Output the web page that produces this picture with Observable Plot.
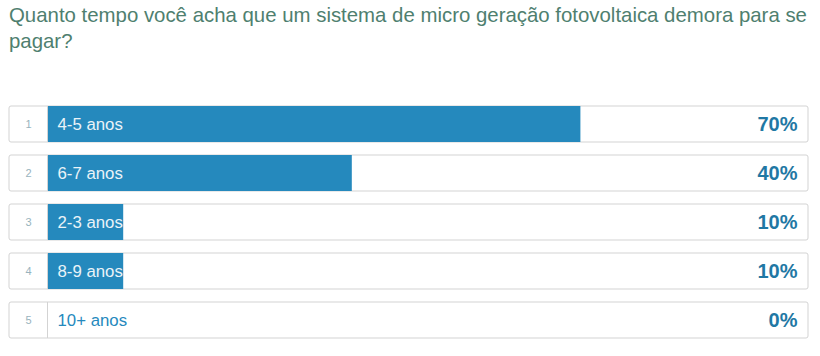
<!DOCTYPE html>
<html>
<head>
<meta charset="utf-8">
<script src="https://cdn.jsdelivr.net/npm/d3@7"></script>
<script src="https://cdn.jsdelivr.net/npm/@observablehq/plot@0.6"></script>
<style>
  html, body { margin: 0; padding: 0; background: #fff; }
  #title { font-family: "Liberation Sans", Arial, sans-serif; font-size: 20.4px; line-height: 26px;
           color: #4f7f6f; padding: 2px 0 0 9px; height: 56px; box-sizing: border-box; white-space: nowrap; }
  svg { display: block; }
</style>
</head>
<body>
<div id="title">Quanto tempo você acha que um sistema de micro geração fotovoltaica demora para se<br>pagar?</div>
<div id="chart"></div>
<script>
const titleText = "Quanto tempo você acha que um sistema de micro geração fotovoltaica demora para se pagar?";
const ranks = [1, 2, 3, 4, 5];
const categories = ["4-5 anos", "6-7 anos", "2-3 anos", "8-9 anos", "10+ anos"];
const percents = [70, 40, 10, 10, 0];

const data = categories.map((c, i) => ({ rank: ranks[i], cat: c, pct: percents[i] }));
const blue = "#2589bd";

const chart = Plot.plot({
  width: 820,
  height: 300,
  marginLeft: 47,
  marginRight: 11,
  marginTop: 43.5,
  marginBottom: 11.5,
  x: { domain: [0, 100], axis: null },
  y: { domain: categories, axis: null, paddingInner: 0.265, paddingOuter: 0.1325 },
  style: { fontFamily: "'Liberation Sans', Arial, sans-serif", background: "#fff" },
  marks: [
    Plot.barX(data, { y: "cat", x1: 0, x2: 100, insetLeft: -38, insetRight: 1, fill: "#fff", stroke: "#d3d3d3", strokeWidth: 1, rx: 2 }),
    Plot.barX(data, { y: "cat", x1: 0, x2: "pct", fill: blue }),
    Plot.tickX(data, { y: "cat", x: 0, stroke: "#d3d3d3" }),
    Plot.text(data, { y: "cat", x: 0, dx: -19, text: d => String(d.rank), fill: "#98b3bd", fontSize: 11 }),
    Plot.text(data, { y: "cat", x: 0, dx: 10, text: "cat", textAnchor: "start", fontSize: 16.8, fill: d => d.pct > 0 ? "#eaf3f8" : blue }),
    Plot.text(data, { y: "cat", x: 100, dx: -12, text: d => d.pct + "%", textAnchor: "end", fontSize: 20, fontWeight: "bold", fill: "#1f78a4" })
  ]
});
document.getElementById("chart").appendChild(chart);
</script>
</body>
</html>
